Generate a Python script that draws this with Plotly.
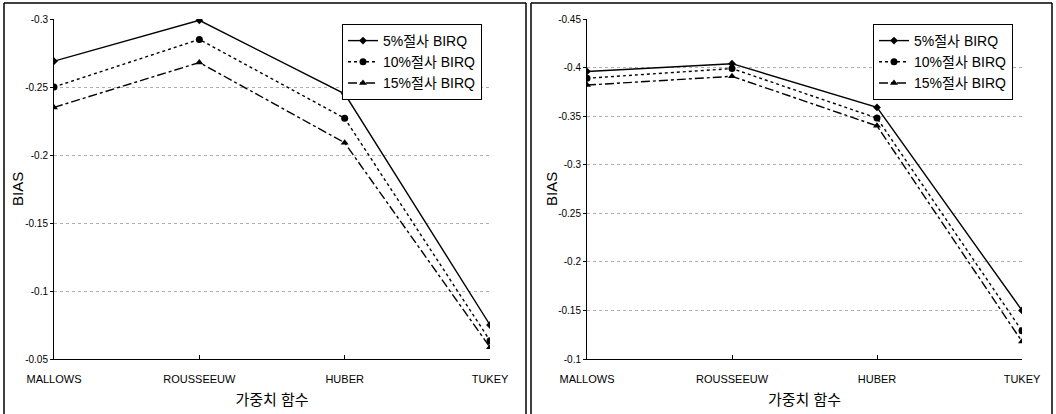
import plotly.graph_objects as go

categories = ["MALLOWS", "ROUSSEEUW", "HUBER", "TUKEY"]
series_names = ["5%절사 BIRQ", "10%절사 BIRQ", "15%절사 BIRQ"]

left_5 = [-0.269, -0.299, -0.245, -0.075]
left_10 = [-0.250, -0.285, -0.227, -0.0635]
left_15 = [-0.235, -0.268, -0.209, -0.0586]

right_5 = [-0.396, -0.404, -0.359, -0.150]
right_10 = [-0.389, -0.399, -0.348, -0.129]
right_15 = [-0.382, -0.391, -0.340, -0.118]

left_ticks = [-0.3, -0.25, -0.2, -0.15, -0.1, -0.05]
left_ticktext = ["-0.3", "-0.25", "-0.2", "-0.15", "-0.1", "-0.05"]
right_ticks = [-0.45, -0.4, -0.35, -0.3, -0.25, -0.2, -0.15, -0.1]
right_ticktext = ["-0.45", "-0.4", "-0.35", "-0.3", "-0.25", "-0.2", "-0.15", "-0.1"]

styles = [
    dict(dash="solid", symbol="diamond", size=6),
    dict(dash="dot", symbol="circle", size=7),
    dict(dash="dashdot", symbol="triangle-up", size=7),
]

W, H = 1056, 414
fig = go.Figure()

for i, (name, vals) in enumerate(zip(series_names, [left_5, left_10, left_15])):
    s = styles[i]
    fig.add_trace(go.Scatter(
        x=categories, y=vals, name=name, mode="lines+markers",
        line=dict(color="black", width=1.4, dash=s["dash"]),
        marker=dict(symbol=s["symbol"], size=s["size"], color="black"),
        xaxis="x", yaxis="y", legend="legend"))

for i, (name, vals) in enumerate(zip(series_names, [right_5, right_10, right_15])):
    s = styles[i]
    fig.add_trace(go.Scatter(
        x=categories, y=vals, name=name, mode="lines+markers",
        line=dict(color="black", width=1.4, dash=s["dash"]),
        marker=dict(symbol=s["symbol"], size=s["size"], color="black"),
        xaxis="x2", yaxis="y2", legend="legend2"))

font_family = "Liberation Sans, Arial, Noto Sans CJK KR"
narrow_family = "Liberation Sans Narrow, Arial Narrow, Liberation Sans, Arial"

def xaxis(domain, anchor):
    return dict(
        domain=domain, anchor=anchor, type="category",
        categoryorder="array", categoryarray=categories,
        range=[0, 3], showline=True, linecolor="black", linewidth=1,
        ticks="inside", ticklen=4, tickcolor="black",
        showgrid=False, zeroline=False, automargin=False,
        ticklabelstandoff=10,
        tickfont=dict(size=11, color="black", family=narrow_family),
        title=dict(text="가중치 함수", font=dict(size=15, color="black", family=font_family), standoff=10),
    )

def yaxis(domain, anchor, rng, tv, tt):
    return dict(
        domain=domain, anchor=anchor, range=rng,
        tickvals=tv, ticktext=tt,
        showline=True, linecolor="black", linewidth=1,
        ticks="outside", ticklen=3, tickcolor="black",
        showgrid=True, gridcolor="#b0b0b0", griddash="dot", gridwidth=1,
        zeroline=False, automargin=False,
        tickfont=dict(size=10, color="black", family=narrow_family),
    )

ydom = [1 - 359 / H, 1 - 19 / H]

legend_common = dict(
    bgcolor="white", bordercolor="black", borderwidth=1,
    font=dict(size=14, color="black", family=font_family),
    xanchor="right", yanchor="top", tracegroupgap=0,
    itemwidth=30,
)

fig.update_layout(
    width=W, height=H,
    margin=dict(l=0, r=0, t=0, b=0),
    paper_bgcolor="white", plot_bgcolor="white",
    font=dict(family=font_family, color="black"),
    xaxis=xaxis([54 / W, 490 / W], "y"),
    yaxis=yaxis(ydom, "x", [-0.05, -0.3], left_ticks, left_ticktext),
    xaxis2=xaxis([587 / W, 1022 / W], "y2"),
    yaxis2=yaxis(ydom, "x2", [-0.1, -0.45], right_ticks, right_ticktext),
    legend=dict(x=482 / W, y=1 - 24 / H, **legend_common),
    legend2=dict(x=1013 / W, y=1 - 24 / H, **legend_common),
    showlegend=True,
)

# y-axis titles
for xpx in (17, 551):
    fig.add_annotation(text="BIAS", xref="paper", yref="paper",
                       x=xpx / W, y=(ydom[0] + ydom[1]) / 2, textangle=-90,
                       showarrow=False, xanchor="center", yanchor="middle",
                       font=dict(size=15, color="black", family=font_family))

# panel frames
for x0, x1 in [(4, 526), (531, 1052)]:
    fig.add_shape(type="line", xref="paper", yref="paper",
                  x0=x0 / W, x1=x0 / W, y0=0, y1=1 - 3 / H,
                  line=dict(color="black", width=1.5))
    fig.add_shape(type="line", xref="paper", yref="paper",
                  x0=x1 / W, x1=x1 / W, y0=0, y1=1 - 3 / H,
                  line=dict(color="black", width=1.5))
    fig.add_shape(type="line", xref="paper", yref="paper",
                  x0=x0 / W, x1=x1 / W, y0=1 - 3 / H, y1=1 - 3 / H,
                  line=dict(color="black", width=1.5))

fig.write_html("out.html",
               config={"displayModeBar": False},
               post_script="document.body.style.margin='0';document.body.style.padding='0';document.body.style.overflow='hidden';")
